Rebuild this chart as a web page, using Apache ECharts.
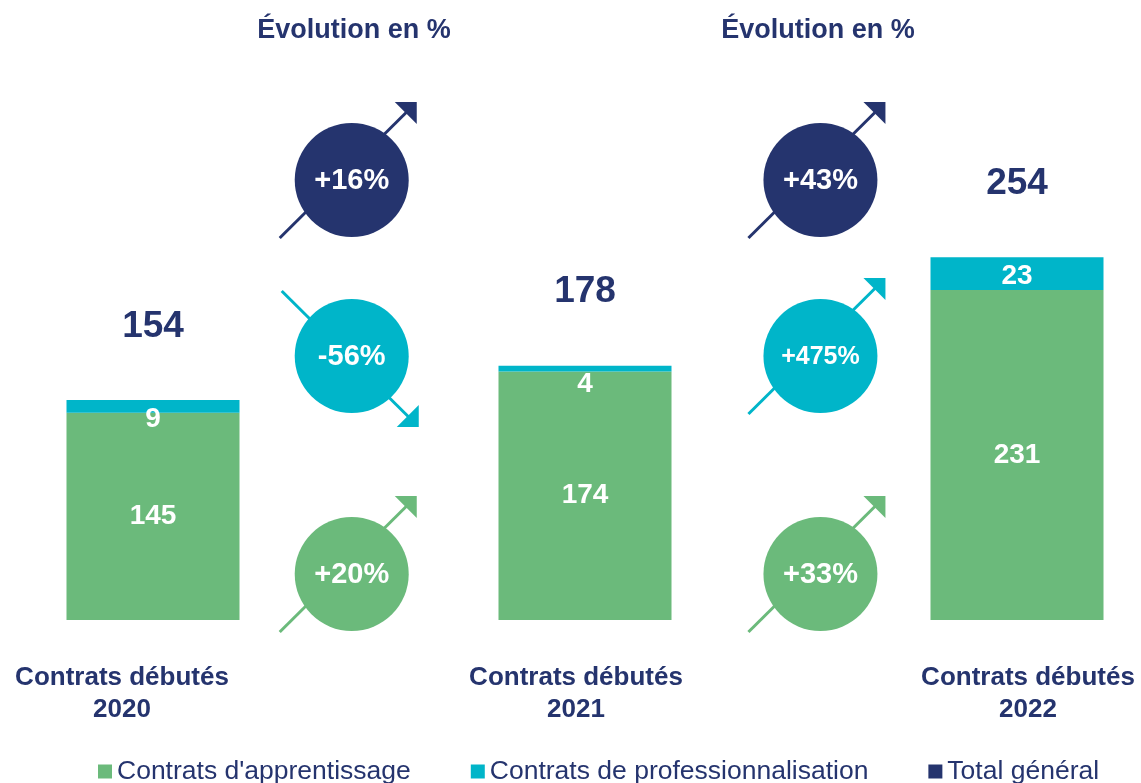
<!DOCTYPE html>
<html>
<head>
<meta charset="utf-8">
<script src="https://cdn.jsdelivr.net/npm/echarts@6/dist/echarts.min.js"></script>
<style>
  html, body { margin: 0; padding: 0; background: #fff; }
  #chart { width: 1141px; height: 783px; }
</style>
</head>
<body>
<div id="chart"></div>
<script>
(function () {
    'use strict';

    // data
    var years = ['2020', '2021', '2022'];
    var apprentissage = [145, 174, 231];
    var professionnalisation = [9, 4, 23];
    var totalGeneral = [154, 178, 254];
    // evolution between consecutive years, in %
    var evolApprentissage = [20, 33];
    var evolPro = [-56, 475];
    var evolTotal = [16, 43];

    var GREEN = '#6bba7b', CYAN = '#00b5c9', NAVY = '#25346e';
    var FONT = "'Liberation Sans', Arial, sans-serif";
    var EVOL_POS = [0.46, 1.545];   // where circles sit between bars (x axis units)
    var labelShift = ['l', 'm', 'r'];

    function evolData(vals) {
        return vals.map(function (v, i) { return [EVOL_POS[i], v]; });
    }

    function evolSeries(name, vals, color, rowY) {
        return {
            name: name,
            type: 'custom',
            xAxisIndex: 1,
            clip: false,
            silent: true,
            encode: { x: 0, y: 1 },
            data: evolData(vals),
            z: 5,
            renderItem: function (params, api) {
                var cx = api.coord([api.value(0), 0])[0];
                var cy = rowY;
                var pct = api.value(1);
                var up = pct >= 0;
                var sx, sy, tx, ty, tri;
                if (up) {
                    sx = cx - 72; sy = cy + 58; tx = cx + 65; ty = cy - 78;
                    tri = [[tx, ty], [tx - 22, ty], [tx, ty + 22]];
                } else {
                    sx = cx - 70; sy = cy - 65; tx = cx + 67; ty = cy + 71;
                    tri = [[tx, ty], [tx - 22, ty], [tx, ty - 22]];
                }
                var txt = (up ? '+' : '') + pct + '%';
                return {
                    type: 'group',
                    children: [
                        { type: 'line', shape: { x1: sx, y1: sy, x2: tx - 6, y2: ty + (up ? 6 : -6) },
                          style: { stroke: color, lineWidth: 3 } },
                        { type: 'polygon', shape: { points: tri }, style: { fill: color } },
                        { type: 'circle', shape: { cx: cx, cy: cy, r: 57 }, style: { fill: color } },
                        { type: 'text', x: cx, y: cy + 1,
                          style: { text: txt, fill: '#fff', fontFamily: FONT, fontWeight: 'bold',
                                   fontSize: txt.length > 4 ? 25 : 29, align: 'center', verticalAlign: 'middle' } }
                    ]
                };
            }
        };
    }

    var chart = echarts.init(document.getElementById('chart'));

    var titleStyle = { color: NAVY, fontFamily: FONT, fontWeight: 'bold', fontSize: 27 };

    var option = {
        backgroundColor: '#fff',
        animation: false,
        title: [
            { text: 'Évolution en %', left: 349, top: 12, textAlign: 'center', textStyle: titleStyle },
            { text: 'Évolution en %', left: 813, top: 12, textAlign: 'center', textStyle: titleStyle }
        ],
        legend: {
            left: 93,
            top: 753,
            icon: 'rect',
            itemWidth: 14,
            itemHeight: 14,
            itemGap: 60,
            textStyle: { color: NAVY, fontFamily: FONT, fontSize: 26.5 },
            data: [
                { name: "Contrats d'apprentissage", itemStyle: { color: GREEN, opacity: 1 } },
                { name: 'Contrats de professionnalisation', itemStyle: { color: CYAN, opacity: 1 } },
                { name: 'Total général', itemStyle: { color: NAVY, opacity: 1 } }
            ]
        },
        grid: { left: 153, right: 124, top: 0, bottom: 163 },
        xAxis: [
            {
                type: 'category',
                data: years,
                boundaryGap: false,
                splitLine: { show: false },
                axisLine: { show: false },
                axisTick: { show: false },
                axisLabel: {
                    margin: 42,
                    interval: 0,
                    formatter: function (v, i) {
                        return '{' + labelShift[i] + '|Contrats débutés\n' + v + '}';
                    },
                    rich: {
                        l: { color: NAVY, fontFamily: FONT, fontWeight: 'bold', fontSize: 26, lineHeight: 32, padding: [0, 62, 0, 0] },
                        m: { color: NAVY, fontFamily: FONT, fontWeight: 'bold', fontSize: 26, lineHeight: 32, padding: [0, 18, 0, 0] },
                        r: { color: NAVY, fontFamily: FONT, fontWeight: 'bold', fontSize: 26, lineHeight: 32, padding: [0, 0, 0, 22] }
                    }
                }
            },
            {
                type: 'value',
                min: 0,
                max: 2,
                show: false
            }
        ],
        yAxis: {
            type: 'value',
            min: 0,
            max: 434,
            show: false,
            splitLine: { show: false }
        },
        series: [
            {
                name: "Contrats d'apprentissage",
                type: 'bar',
                stack: 'contrats',
                clip: false,
                barWidth: 173,
                itemStyle: { color: GREEN },
                label: { show: true, position: 'inside', color: '#fff', fontFamily: FONT, fontWeight: 'bold', fontSize: 28 },
                data: apprentissage
            },
            {
                name: 'Contrats de professionnalisation',
                type: 'bar',
                stack: 'contrats',
                clip: false,
                barWidth: 173,
                itemStyle: { color: CYAN },
                label: { show: true, position: 'insideTop', distance: 5, color: '#fff', fontFamily: FONT, fontWeight: 'bold', fontSize: 28 },
                data: professionnalisation
            },
            {
                name: 'Total général',
                type: 'scatter',
                symbolSize: 0,
                itemStyle: { color: NAVY, opacity: 1 },
                label: { show: true, position: 'top', distance: 55, color: NAVY, fontFamily: FONT, fontWeight: 'bold', fontSize: 37 },
                data: totalGeneral
            },
            evolSeries('evolTotal', evolTotal, NAVY, 180),
            evolSeries('evolPro', evolPro, CYAN, 356),
            evolSeries('evolApp', evolApprentissage, GREEN, 574)
        ]
    };

    chart.setOption(option);
    window.addEventListener('resize', function () { chart.resize(); });
})();
</script>
</body>
</html>
